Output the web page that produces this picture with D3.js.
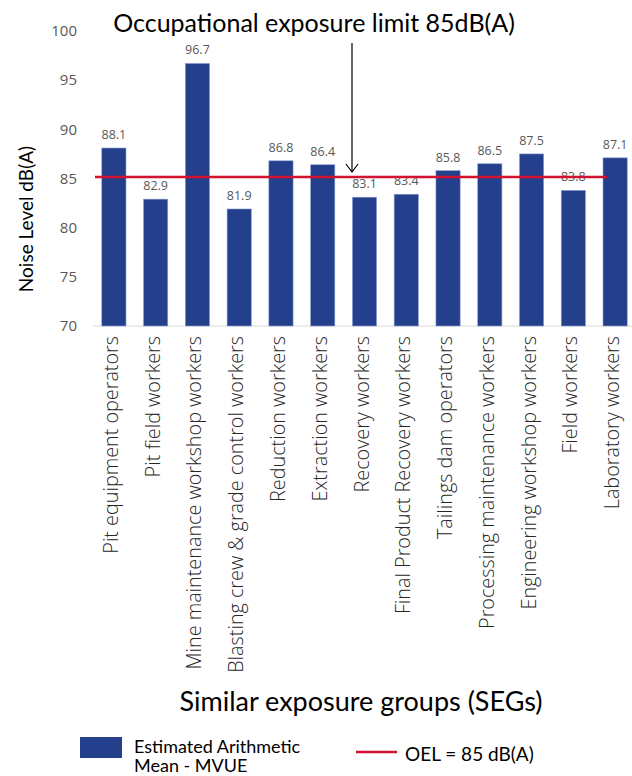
<!DOCTYPE html>
<html>
<head>
<meta charset="utf-8">
<script src="https://cdn.jsdelivr.net/npm/d3@7"></script>
<style>
  body { margin: 0; background: #fff; }
</style>
</head>
<body>
<svg id="chart"></svg>
<script>
// Data
const categories = [
  "Pit equipment operators", "Pit field workers", "Mine maintenance workshop workers",
  "Blasting crew & grade control workers", "Reduction workers", "Extraction workers",
  "Recovery workers", "Final Product Recovery workers", "Tailings dam operators",
  "Processing maintenance workers", "Engineering workshop workers", "Field workers",
  "Laboratory workers"
];
const meanValues = [88.1, 82.9, 96.7, 81.9, 86.8, 86.4, 83.1, 83.4, 85.8, 86.5, 87.5, 83.8, 87.1];
const oelLimit = 85;
const yTicks = [70, 75, 80, 85, 90, 95, 100];

const W = 632, H = 776;
const svg = d3.select("#chart").attr("width", W).attr("height", H);

const barColor = "#243f8c";
const redColor = "#d2122e";

// Scales
const x = d3.scaleBand()
    .domain(categories)
    .range([93, 636])
    .paddingInner(0.42)
    .paddingOuter(0.21);

const y = d3.scaleLinear()
    .domain([70, 100])
    .range([326, 31]);

// Y axis tick labels
svg.append("g")
    .attr("transform", "translate(77,0)")
    .call(d3.axisLeft(y).tickValues(yTicks).tickSize(0).tickPadding(0))
    .call(g => g.select(".domain").remove())
    .call(g => g.selectAll("text")
        .attr("font-family", "Open Sans")
        .attr("font-size", 15)
        .attr("fill", "#595959"));

// Baseline
svg.append("line")
    .attr("x1", 93).attr("x2", 632)
    .attr("y1", y(70)).attr("y2", y(70))
    .attr("stroke", "#d9d9d9").attr("stroke-width", 1);

// Bars
svg.selectAll(".bar")
  .data(meanValues)
  .enter().append("rect")
    .attr("class", "bar")
    .attr("x", (d, i) => x(categories[i]))
    .attr("y", d => y(d))
    .attr("width", x.bandwidth())
    .attr("height", d => y(70) - y(d))
    .attr("fill", barColor)
    .attr("stroke", "#8fa0d2")
    .attr("stroke-width", 0.6);

// Value labels
svg.selectAll(".val")
  .data(meanValues)
  .enter().append("text")
    .attr("class", "val")
    .attr("x", (d, i) => x(categories[i]) + x.bandwidth() / 2)
    .attr("y", d => y(d) - 9)
    .attr("text-anchor", "middle")
    .attr("font-family", "Open Sans")
    .attr("font-size", 12.5)
    .attr("fill", "#595959")
    .text(d => d.toFixed(1));

// OEL line
svg.append("line")
    .attr("x1", 95).attr("x2", 607)
    .attr("y1", y(oelLimit) - 1.5).attr("y2", y(oelLimit) - 1.5)
    .attr("stroke", redColor).attr("stroke-width", 2.5);

// X category labels (rotated)
svg.selectAll(".cat")
  .data(categories)
  .enter().append("text")
    .attr("class", "cat")
    .attr("transform", d => `translate(${x(d) + x.bandwidth() / 2 + 4},336) rotate(-90)`)
    .attr("text-anchor", "end")
    .attr("font-family", "Open Sans")
    .attr("font-weight", 300)
    .attr("font-size", 19.8)
    .attr("fill", "#262626")
    .text(d => d);

// Y axis title
svg.append("text")
    .attr("transform", "translate(33,219) rotate(-90)")
    .attr("text-anchor", "middle")
    .attr("font-family", "Lato")
    .attr("font-size", 19)
    .attr("fill", "#000")
    .text("Noise Level dB(A)");

// Top annotation
svg.append("text")
    .attr("x", 314).attr("y", 32)
    .attr("text-anchor", "middle")
    .attr("font-family", "Lato")
    .attr("font-size", 25)
    .attr("fill", "#000")
    .text("Occupational exposure limit 85dB(A)");

// Arrow
svg.append("line")
    .attr("x1", 352).attr("x2", 352)
    .attr("y1", 43).attr("y2", 172)
    .attr("stroke", "#000").attr("stroke-width", 1.2);
svg.append("path")
    .attr("d", "M346,164 L352,172 L358,164")
    .attr("fill", "none")
    .attr("stroke", "#000").attr("stroke-width", 1.2);

// X axis title
svg.append("text")
    .attr("x", 361).attr("y", 711)
    .attr("text-anchor", "middle")
    .attr("font-family", "Lato")
    .attr("font-size", 27)
    .attr("fill", "#000")
    .text("Similar exposure groups (SEGs)");

// Legend
const legend = svg.append("g").attr("font-family", "Lato").attr("fill", "#000");
legend.append("rect")
    .attr("x", 80).attr("y", 737).attr("width", 42).attr("height", 21)
    .attr("fill", barColor);
const meanLabel = legend.append("text").attr("x", 134).attr("y", 753).attr("font-size", 18);
meanLabel.append("tspan").attr("x", 134).text("Estimated Arithmetic");
meanLabel.append("tspan").attr("x", 134).attr("dy", 19).text("Mean - MVUE");
legend.append("line")
    .attr("x1", 356).attr("x2", 397).attr("y1", 752).attr("y2", 752)
    .attr("stroke", redColor).attr("stroke-width", 2.5);
legend.append("text").attr("x", 405).attr("y", 761).attr("font-size", 19).text("OEL = 85 dB(A)");
</script>
</body>
</html>
